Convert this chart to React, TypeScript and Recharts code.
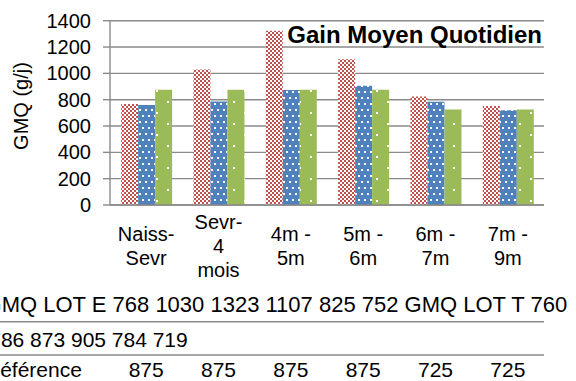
import { Bar, BarChart, CartesianGrid, XAxis, YAxis } from 'recharts'

const categories = ['Naiss-\nSevr', 'Sevr-\n4\nmois', '4m -\n5m', '5m -\n6m', '6m -\n7m', '7m -\n9m']
const lotE = [768, 1030, 1323, 1107, 825, 752]
const lotT = [760, 786, 873, 905, 784, 719]
const reference = [875, 875, 875, 875, 725, 725]
const seriesNames = ['GMQ LOT E', 'GMQ LOT T', 'Référence']
const yTicks = [0, 200, 400, 600, 800, 1000, 1200, 1400]
const title = 'Gain Moyen Quotidien'
const yLabel = 'GMQ (g/j)'

// note: don't call a field "ref", recharts spreads entries onto the bar shapes
const data = categories.map((name, i) => ({
  name,
  lotE: lotE[i],
  lotT: lotT[i],
  refValue: reference[i],
}))

const FONT = '"Liberation Sans", Arial, sans-serif'
const GRID = '#8a8a8a'
const W = 576
const H = 381

function renderCategoryTick(props: any) {
  const { x, y, payload, index } = props
  const lines = String(payload.value).split('\n')
  const lh = 24
  const first = y + 47.5 - ((lines.length - 1) * lh) / 2
  return (
    <g fontFamily={FONT}>
      <text x={x} y={first} textAnchor="middle" fontSize={20} fill="#000">
        {lines.map((l, i) => (
          <tspan key={i} x={x} y={first + i * lh}>
            {l}
          </tspan>
        ))}
      </text>
      <text x={x} y={y + 171.5} textAnchor="middle" fontSize={21} fill="#000">
        {reference[index]}
      </text>
    </g>
  )
}

export default function App() {
  // the data table rows overflow to the left in the original, so the first glyphs are cut
  const row1 = `${seriesNames[0]} ${lotE.join(' ')} ${seriesNames[1]} ${lotT[0]}`
  const row2 = lotT.slice(1).join(' ')

  return (
    <div style={{ position: 'absolute', left: 0, top: 0, width: W, height: H, background: '#fff' }}>
      <svg width={0} height={0} style={{ position: 'absolute' }}>
        <defs>
          <pattern id="checkRed" patternUnits="userSpaceOnUse" width={4} height={4}>
            <rect width={4} height={4} fill="#fff" />
            <rect x={0} y={0} width={2} height={2} fill="#C0504D" />
            <rect x={2} y={2} width={2} height={2} fill="#C0504D" />
          </pattern>
          <pattern id="dotBlue" patternUnits="userSpaceOnUse" width={6} height={12}>
            <rect width={6} height={12} fill="#4F81BD" />
            <rect x={1} y={1} width={2} height={2} fill="#fff" />
            <rect x={4} y={7} width={2} height={2} fill="#fff" />
          </pattern>
          <pattern id="dotGreen" patternUnits="userSpaceOnUse" width={22} height={22}>
            <rect width={22} height={22} fill="#9BBB59" />
            <rect x={2} y={2} width={2} height={2} fill="#fff" />
            <rect x={13} y={13} width={2} height={2} fill="#fff" />
          </pattern>
        </defs>
      </svg>
      <BarChart
        width={W}
        height={H}
        data={data}
        margin={{ top: 20.7, right: 32, bottom: 0, left: 0 }}
        barCategoryGap="15.4%"
        barGap={0}
      >
        <CartesianGrid vertical={false} stroke={GRID} strokeWidth={1.4} />
        <XAxis
          dataKey="name"
          height={176}
          tickSize={0}
          tickMargin={0}
          tickLine={false}
          axisLine={{ stroke: GRID, strokeWidth: 1.4 }}
          interval={0}
          tick={renderCategoryTick}
        />
        <YAxis
          width={110}
          domain={[0, 1400]}
          ticks={yTicks}
          interval={0}
          tickSize={7}
          tickMargin={12}
          axisLine={{ stroke: GRID, strokeWidth: 1.4 }}
          tickLine={{ stroke: GRID, strokeWidth: 1.4 }}
          tick={{ fill: '#000', fontSize: 20, fontFamily: FONT }}
        />
        <Bar dataKey="lotE" name={seriesNames[0]} fill="url(#checkRed)" isAnimationActive={false} />
        <Bar dataKey="lotT" name={seriesNames[1]} fill="url(#dotBlue)" isAnimationActive={false} />
        <Bar dataKey="refValue" name={seriesNames[2]} fill="url(#dotGreen)" isAnimationActive={false} />
      </BarChart>
      <svg
        width={W}
        height={H}
        style={{ position: 'absolute', left: 0, top: 0, pointerEvents: 'none' }}
        fontFamily={FONT}
      >
        <text x={542} y={43} textAnchor="end" fontSize={24} fontWeight="bold" fill="#000">
          {title}
        </text>
        <text x={28} y={106} transform="rotate(-90 28 106)" textAnchor="middle" fontSize={20} fill="#000">
          {yLabel}
        </text>
        <text x={-15.4} y={311.7} fontSize={22} fill="#000">
          {row1}
        </text>
        <line x1={0} x2={544} y1={321.7} y2={321.7} stroke={GRID} strokeWidth={1.5} />
        <text x={-10.8} y={346.7} fontSize={21} fill="#000">
          {row2}
        </text>
        <line x1={0} x2={544} y1={355} y2={355} stroke={GRID} strokeWidth={1.5} />
        <text x={-15} y={376.5} fontSize={21} fill="#000">
          {seriesNames[2]}
        </text>
      </svg>
    </div>
  )
}
